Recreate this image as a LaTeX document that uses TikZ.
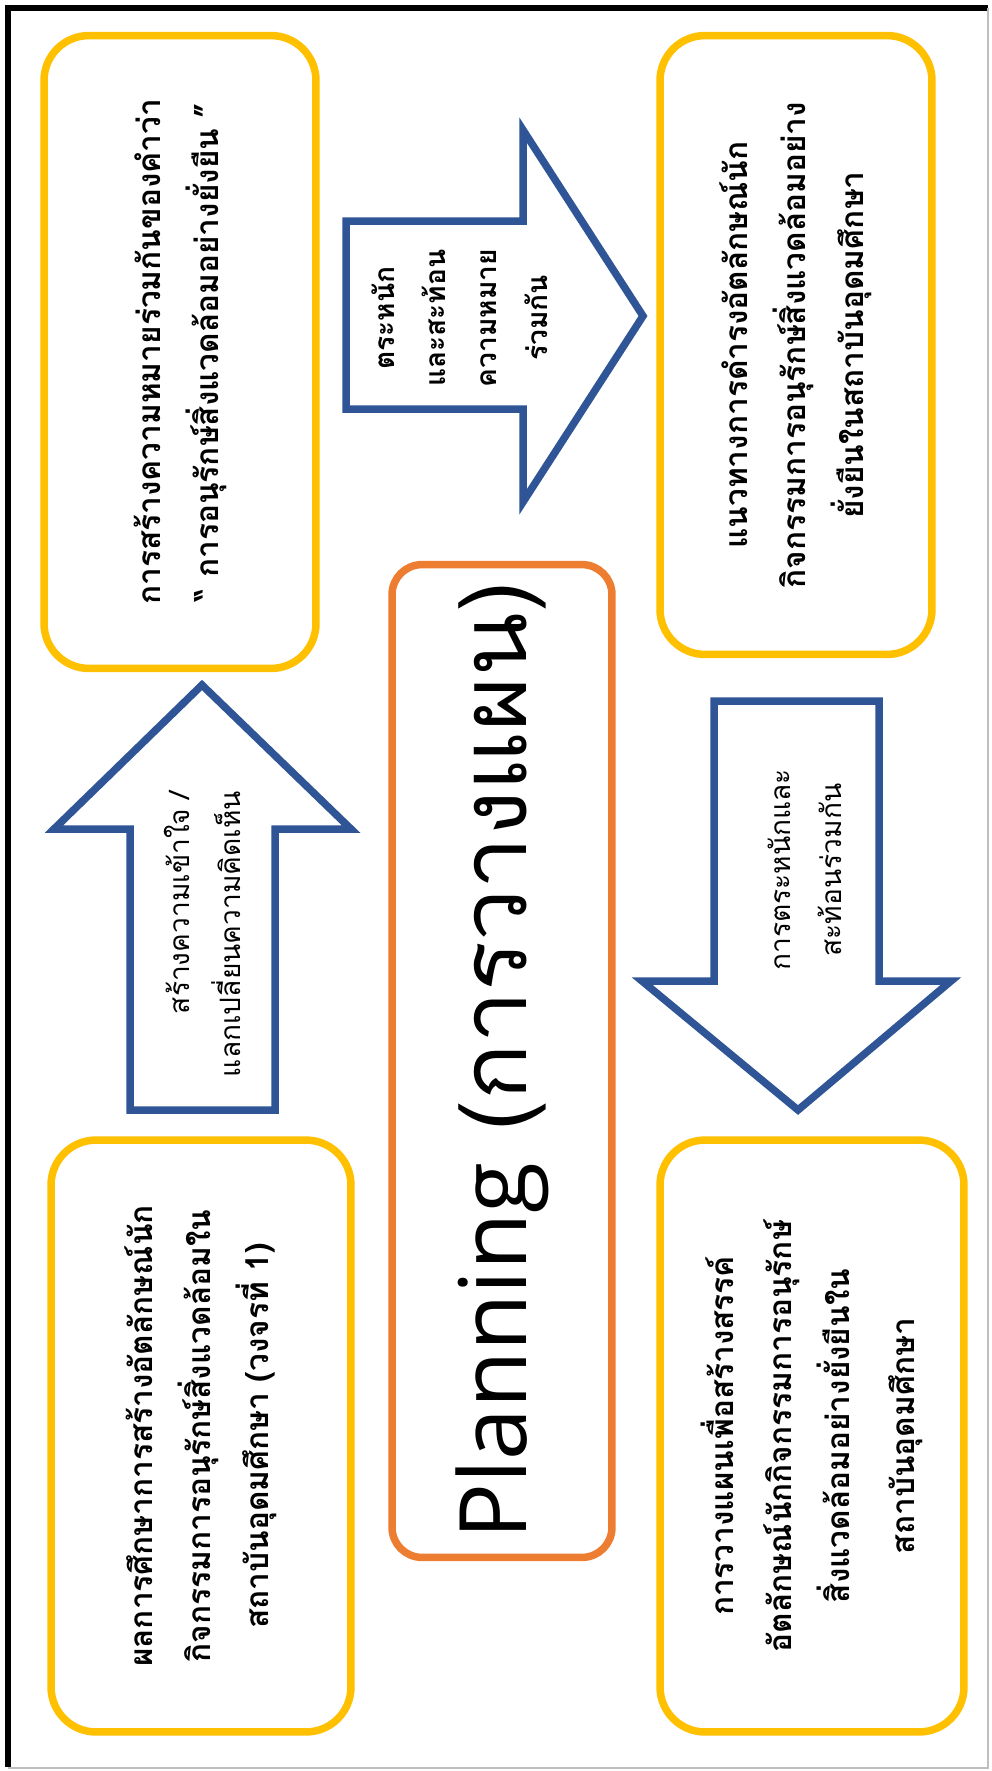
\documentclass[tikz,border=0pt]{standalone}
\usepackage{fontspec}
\setmainfont{Loma}[Script=Thai]
\newfontfamily\latin{Open Sans}

\definecolor{boxyellow}{HTML}{FFC000}
\definecolor{arrowblue}{HTML}{2F5597}
\definecolor{planorange}{HTML}{ED7D31}

\begin{document}
\begin{tikzpicture}[x=0.02cm,y=-0.02cm,
    ybox/.style={draw=boxyellow,line width=0.15cm,rounded corners=0.9cm,rotate=90,align=center,font=\fontsize{18}{33}\selectfont\bfseries},
    obox/.style={draw=planorange,line width=0.15cm,rounded corners=0.6cm,rotate=90},
    barrow/.style={draw=arrowblue,line width=0.15cm,line join=miter},
    atext/.style={rotate=90,align=center,font=\fontsize{16}{29}\selectfont}]
    \fill[white] (0,0) rectangle (991,1771);
    \useasboundingbox (0,0) rectangle (991,1771);
    \draw[line width=0.12cm] (8,1767) -- (8,8) -- (988,8);
    \draw[gray!50,line width=0.04cm] (988,8) -- (988,1768) -- (8,1768);

    \node[ybox, minimum width=11.84cm, minimum height=6cm] (res) at (201,1436) {ผลการศึกษาการสร้างอัตลักษณ์นัก\\กิจกรรมการอนุรักษ์สิ่งแวดล้อมใน\\สถาบันอุดมศึกษา (วงจรที่ 1)};
    \node[ybox, minimum width=12.66cm, minimum height=5.44cm] (meaning) at (180,352) {การสร้างความหมายร่วมกันของคำว่า\\“ การอนุรักษ์สิ่งแวดล้อมอย่างยั่งยืน ”};
    \node[ybox, minimum width=12.38cm, minimum height=5.44cm] (guide) at (796,345) {แนวทางการดำรงอัตลักษณ์นัก\\กิจกรรมการอนุรักษ์สิ่งแวดล้อมอย่าง\\ยั่งยืนในสถาบันอุดมศึกษา};
    \node[ybox, minimum width=11.84cm, minimum height=6.08cm] (plan) at (812,1436) {การวางแผนเพื่อสร้างสรรค์\\อัตลักษณ์นักกิจกรรมการอนุรักษ์\\สิ่งแวดล้อมอย่างยั่งยืนใน\\[0.15cm]สถาบันอุดมศึกษา};
    \node[obox, minimum width=19.86cm, minimum height=4.4cm] (planning) at (502,1061) {\fontsize{53}{56}\selectfont{\latin Planning} (การวางแผน)};

    \draw[barrow] (130,1110) -- (275,1110) -- (275,829) -- (351,829) -- (202,685) -- (54,829) -- (130,829) -- cycle;
    \draw[barrow] (346,221) -- (523,221) -- (523,130) -- (643,316) -- (523,502) -- (523,409) -- (346,409) -- cycle;
    \draw[barrow] (714,701) -- (879,701) -- (879,981) -- (951,981) -- (798,1110) -- (642,981) -- (714,981) -- cycle;

    \node[atext, align=right] (share) at (202,934) {สร้างความเข้าใจ /\\แลกเปลี่ยนความคิดเห็น};
    \node[atext, font=\fontsize{16}{29}\selectfont\bfseries] (aware) at (460,318) {ตระหนัก\\และสะท้อน\\ความหมาย\\ร่วมกัน};
    \node[atext] (reflect) at (805,870) {การตระหนักและ\\สะท้อนร่วมกัน};
\end{tikzpicture}
\end{document}
